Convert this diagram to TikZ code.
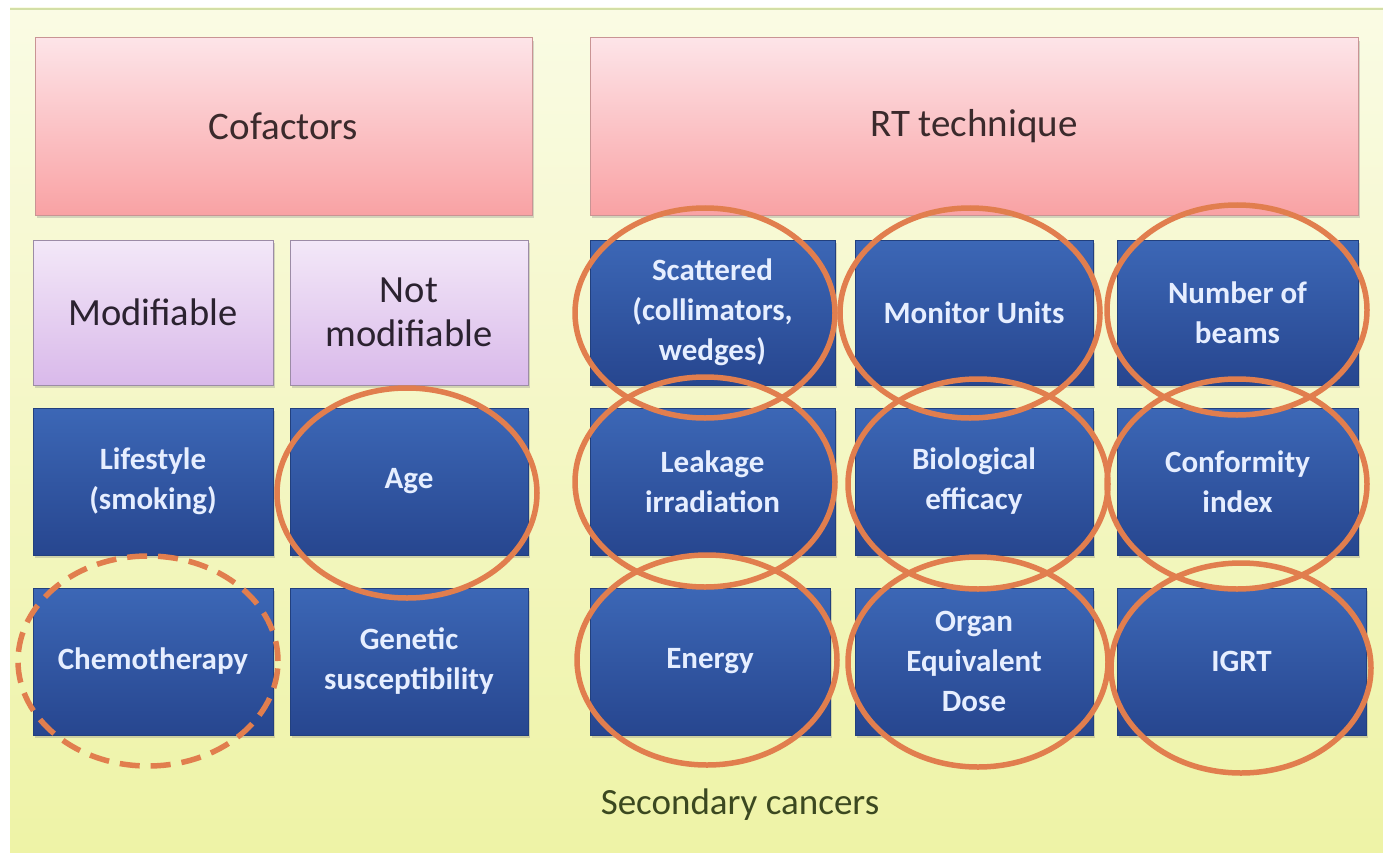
\documentclass[tikz,border=0pt]{standalone}
\usepackage{fontspec}
\setmainfont{Carlito}
\usetikzlibrary{shapes.geometric,shadows}

\definecolor{bgtop}{HTML}{FAFBE4}
\definecolor{bgbot}{HTML}{EEF3A6}
\definecolor{bgedge}{HTML}{D3DFA6}
\definecolor{pinktop}{HTML}{FDE4E8}
\definecolor{pinkbot}{HTML}{F9A2A4}
\definecolor{pinkedge}{HTML}{C99494}
\definecolor{headtext}{HTML}{3B2A2C}
\definecolor{lilactop}{HTML}{F3E8F8}
\definecolor{lilacbot}{HTML}{D9B9EA}
\definecolor{lilacedge}{HTML}{9C8CA6}
\definecolor{lilactext}{HTML}{2B2230}
\definecolor{bluetop}{HTML}{3C67B6}
\definecolor{bluebot}{HTML}{27468F}
\definecolor{blueedge}{HTML}{22407E}
\definecolor{bluetext}{HTML}{E6EEFF}
\definecolor{ringorange}{HTML}{E17E4E}
\definecolor{foottext}{HTML}{3B4820}

\tikzset{
  box/.style={rectangle, draw, line width=1pt, align=center, inner sep=0pt,
    drop shadow={shadow xshift=2pt, shadow yshift=-3pt, opacity=0.3}},
  headbox/.style={box, draw=pinkedge, top color=pinktop, bottom color=pinkbot,
    text=headtext, minimum height=177pt, font=\fontsize{39}{44}\selectfont},
  lilacbox/.style={box, draw=lilacedge, top color=lilactop, bottom color=lilacbot,
    text=lilactext, font=\fontsize{38.5}{44}\selectfont},
  bluebox/.style={box, draw=blueedge, top color=bluetop, bottom color=bluebot,
    text=bluetext, font=\fontsize{31}{40}\selectfont\bfseries},
  ring/.style={ellipse, draw=ringorange, line width=5.5pt, inner sep=0pt,
    minimum width=260pt, minimum height=210pt},
}

\begin{document}
\begin{tikzpicture}[x=1pt,y=-1pt]
  \useasboundingbox (0,0) rectangle (1383,853);
  % backdrop
  \shade[top color=bgtop, bottom color=bgbot] (10,8) rectangle (1383,853);
  \draw[bgedge, line width=2pt] (10,9) -- (1383,9);

  % headings
  \node[headbox, minimum width=497pt] (cof) at (283.5,126.5) {Cofactors};
  \node[headbox, minimum width=768pt] (rt) at (974,126.5) {RT technique};

  % cofactors
  \node[lilacbox, minimum width=240pt, minimum height=145pt] (mod) at (153,312.5) {Modifiable};
  \node[lilacbox, minimum width=238pt, minimum height=145pt] (notmod) at (409,312.5) {Not\\modifiable};
  \node[bluebox, minimum width=240pt, minimum height=147pt] (life) at (153,481.5) {Lifestyle\\(smoking)};
  \node[bluebox, minimum width=238pt, minimum height=147pt] (age) at (409,481.5) {Age};
  \node[bluebox, minimum width=240pt, minimum height=147pt] (chemo) at (153,661.5) {Chemotherapy};
  \node[bluebox, minimum width=238pt, minimum height=147pt] (genet) at (409,661.5) {Genetic\\susceptibility};

  % RT technique
  \node[bluebox, minimum width=245pt, minimum height=145pt] (scat) at (712.5,312.5) {Scattered\\(collimators,\\wedges)};
  \node[bluebox, minimum width=238pt, minimum height=145pt] (mu) at (974,312.5) {Monitor Units};
  \node[bluebox, minimum width=241pt, minimum height=145pt] (beams) at (1237.5,312.5) {Number of\\beams};
  \node[bluebox, minimum width=245pt, minimum height=147pt] (leak) at (712.5,481.5) {Leakage\\irradiation};
  \node[bluebox, minimum width=238pt, minimum height=147pt] (bio) at (974,481.5) {Biological\\efficacy};
  \node[bluebox, minimum width=241pt, minimum height=147pt] (ci) at (1237.5,481.5) {Conformity\\index};
  \node[bluebox, minimum width=240pt, minimum height=147pt] (energy) at (710,661.5) {Energy};
  \node[bluebox, minimum width=238pt, minimum height=147pt] (oed) at (974,661.5) {Organ\\Equivalent\\Dose};
  \node[bluebox, minimum width=249pt, minimum height=147pt] (igrt) at (1241.5,661.5) {IGRT};

  % rings
  \node[ring] (ageRing) at (407,493) {};
  \node[ring, dashed, dash pattern=on 20pt off 11pt] (chemoRing) at (148,661) {};
  \node[ring] (scatRing) at (705,313) {};
  \node[ring] (muRing) at (970,313) {};
  \node[ring] (beamsRing) at (1237,310) {};
  \node[ring] (leakRing) at (705,482) {};
  \node[ring] (bioRing) at (978,484) {};
  \node[ring] (ciRing) at (1237,484) {};
  \node[ring] (energyRing) at (707,660) {};
  \node[ring] (oedRing) at (978,662) {};
  \node[ring] (igrtRing) at (1241,668) {};

  \node[text=foottext, font=\fontsize{37}{40}\selectfont] (sec) at (740,805) {Secondary cancers};
\end{tikzpicture}
\end{document}
